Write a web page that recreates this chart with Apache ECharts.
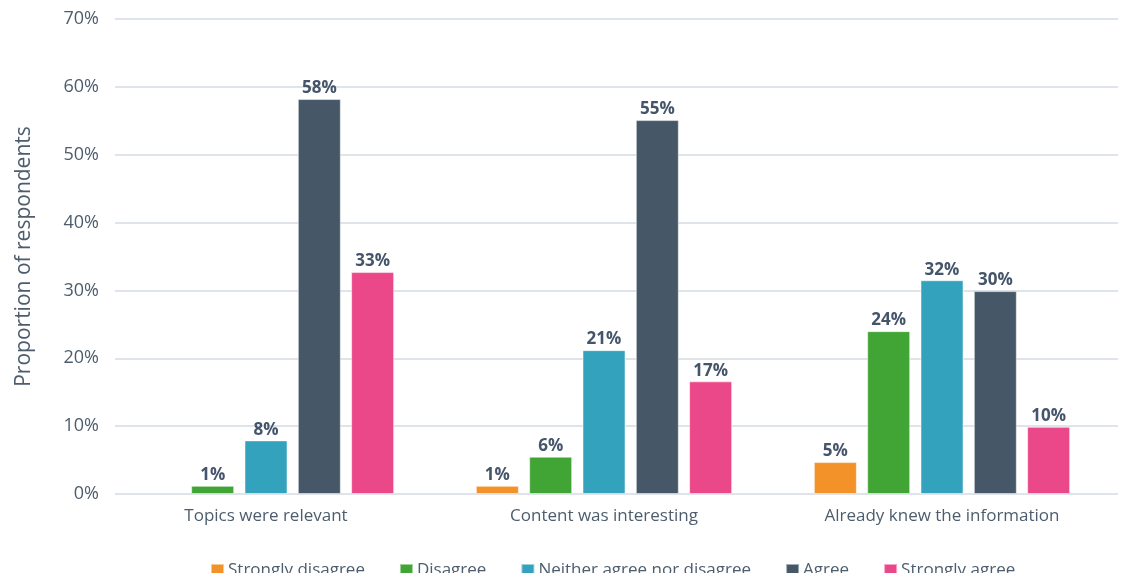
<!DOCTYPE html>
<html>
<head>
<meta charset="utf-8">
<script src="https://cdn.jsdelivr.net/npm/echarts@6/dist/echarts.min.js"></script>
<style>
	html, body { margin: 0; padding: 0; background: #fff; }
	#chart { width: 1123px; height: 573px; }
</style>
</head>
<body>
<div id="chart"></div>
<script>
// 数据
var categories = ['Topics were relevant', 'Content was interesting', 'Already knew the information'];
var stronglyDisagree = [null, 1.2, 4.7];
var disagree = [1.2, 5.5, 24.0];
var neither = [7.9, 21.2, 31.5];
var agree = [58.2, 55.1, 29.9];
var stronglyAgree = [32.7, 16.6, 9.9];
var yTicks = [0, 10, 20, 30, 40, 50, 60, 70];

var textColor = '#4d5d6d';
var labelColor = '#44546a';

function makeBar(name, data, color) {
	return {
		name: name,
		type: 'bar',
		xAxisIndex: 0,
		yAxisIndex: 0,
		data: data,
		barWidth: 43,
		barGap: '24%',
		itemStyle: { color: color, borderColor: 'rgba(255,255,255,0.5)', borderWidth: 1 },
		label: {
			show: true,
			position: 'top',
			distance: 2,
			color: labelColor,
			fontFamily: 'Open Sans',
			fontWeight: 'bold',
			fontSize: 17,
			formatter: function (p) { return Math.round(p.value) + '%'; }
		}
	};
}

var myChart = echarts.init(document.getElementById('chart'));
var option = {
	backgroundColor: '#fff',
	animation: false,
	textStyle: { fontFamily: 'Open Sans' },
	grid: [
		{ left: 97, right: 12, top: 19, bottom: 79 },
		{ left: 115, right: 5, top: 19, bottom: 79 }
	],
	legend: {
		left: 205,
		top: 557,
		itemWidth: 13,
		itemHeight: 13,
		itemGap: 34,
		icon: 'rect',
		textStyle: { color: textColor, fontSize: 17, padding: [0, 0, 0, -1] },
		data: ['Strongly disagree', 'Disagree', 'Neither agree nor disagree', 'Agree', 'Strongly agree']
	},
	xAxis: [
		{
			type: 'category',
			gridIndex: 0,
			data: categories,
			axisLine: { show: false },
			axisTick: { show: false },
			axisLabel: { color: textColor, fontSize: 17, margin: 14 }
		},
		{
			type: 'value',
			gridIndex: 1,
			show: false,
			min: 0,
			max: 1
		}
	],
	yAxis: [
		{
			type: 'value',
			gridIndex: 0,
			min: 0,
			max: 70,
			show: false
		},
		{
			type: 'value',
			gridIndex: 1,
			min: yTicks[0],
			max: yTicks[yTicks.length - 1],
			interval: 10,
			name: 'Proportion of respondents',
			nameLocation: 'middle',
			nameGap: 80,
			nameTextStyle: { color: textColor, fontSize: 21 },
			axisLine: { show: false },
			axisTick: { show: false },
			axisLabel: { color: textColor, fontSize: 18, margin: 16, formatter: '{value}%' },
			splitLine: { lineStyle: { color: '#dfe3ea', width: 2 } }
		}
	],
	series: [
		makeBar('Strongly disagree', stronglyDisagree, '#f39229'),
		makeBar('Disagree', disagree, '#41a535'),
		makeBar('Neither agree nor disagree', neither, '#33a2bc'),
		makeBar('Agree', agree, '#465868'),
		makeBar('Strongly agree', stronglyAgree, '#eb4889')
	]
};
myChart.setOption(option);
</script>
</body>
</html>
